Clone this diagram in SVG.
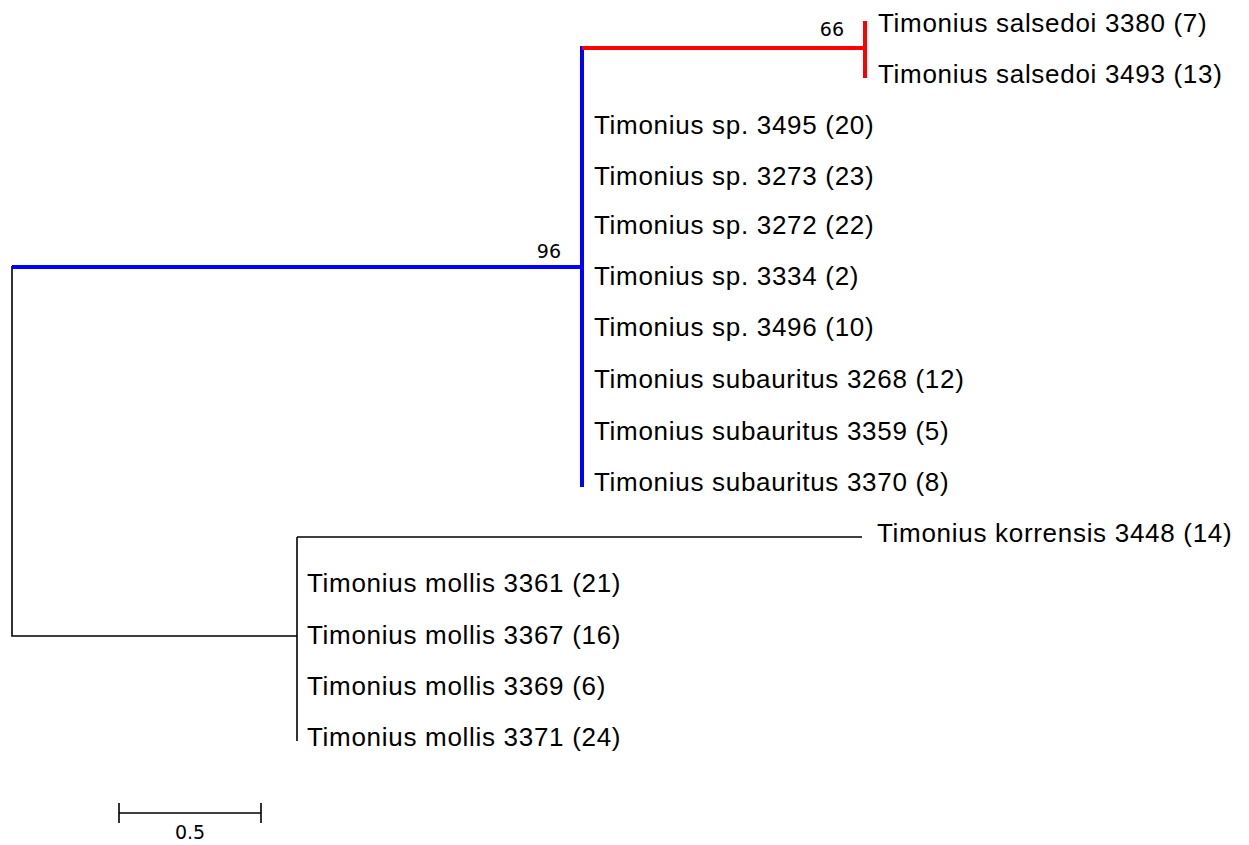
<svg xmlns="http://www.w3.org/2000/svg" width="1249" height="845" viewBox="0 0 1249 845">
<style>
.leaf{font-family:"Liberation Sans",Arial,sans-serif;font-size:26px;letter-spacing:0.7px;fill:#000;dominant-baseline:central}
.sup{font-family:"DejaVu Sans",Verdana,sans-serif;font-size:19px;fill:#000}
.blk{stroke:#000;stroke-width:1.6;fill:none}
.blu{stroke:#0000ff;stroke-width:4;fill:none}
.red{stroke:#ff0000;stroke-width:4;fill:none}
</style>
<rect width="1249" height="845" fill="#fff"/>
<g id="connectors">
<path class="blk" d="M12,266 V636 H297"/>
<path class="blk" d="M297,537 V741"/>
<path class="blk" d="M297,537 H862"/>
<path class="blu" d="M12,267 H582"/>
<path class="blu" d="M582,46 V487"/>
<path class="red" d="M582,48 H865"/>
<path class="red" d="M865,21 V78"/>
</g>
<g id="support">
<text class="sup" x="844" y="36" text-anchor="end">66</text>
<text class="sup" x="561" y="258" text-anchor="end">96</text>
</g>
<g id="leaf1"><text class="leaf" x="878" y="23">Timonius salsedoi 3380 (7)</text></g>
<g id="leaf2"><text class="leaf" x="878" y="74">Timonius salsedoi 3493 (13)</text></g>
<g id="leaf3"><text class="leaf" x="594" y="125">Timonius sp. 3495 (20)</text></g>
<g id="leaf4"><text class="leaf" x="594" y="176">Timonius sp. 3273 (23)</text></g>
<g id="leaf5"><text class="leaf" x="594" y="225">Timonius sp. 3272 (22)</text></g>
<g id="leaf6"><text class="leaf" x="594" y="276">Timonius sp. 3334 (2)</text></g>
<g id="leaf7"><text class="leaf" x="594" y="327">Timonius sp. 3496 (10)</text></g>
<g id="leaf8"><text class="leaf" x="594" y="379">Timonius subauritus 3268 (12)</text></g>
<g id="leaf9"><text class="leaf" x="594" y="431">Timonius subauritus 3359 (5)</text></g>
<g id="leaf10"><text class="leaf" x="594" y="482">Timonius subauritus 3370 (8)</text></g>
<g id="leaf11"><text class="leaf" x="877" y="533">Timonius korrensis 3448 (14)</text></g>
<g id="leaf12"><text class="leaf" x="307" y="583">Timonius mollis 3361 (21)</text></g>
<g id="leaf13"><text class="leaf" x="307" y="635">Timonius mollis 3367 (16)</text></g>
<g id="leaf14"><text class="leaf" x="307" y="686">Timonius mollis 3369 (6)</text></g>
<g id="leaf15"><text class="leaf" x="307" y="737">Timonius mollis 3371 (24)</text></g>
<g id="scalebar">
<path class="blk" d="M119,813 H261 M119,803 V823 M261,803 V823"/>
<text class="sup" x="190" y="839" text-anchor="middle">0.5</text>
</g>
</svg>
